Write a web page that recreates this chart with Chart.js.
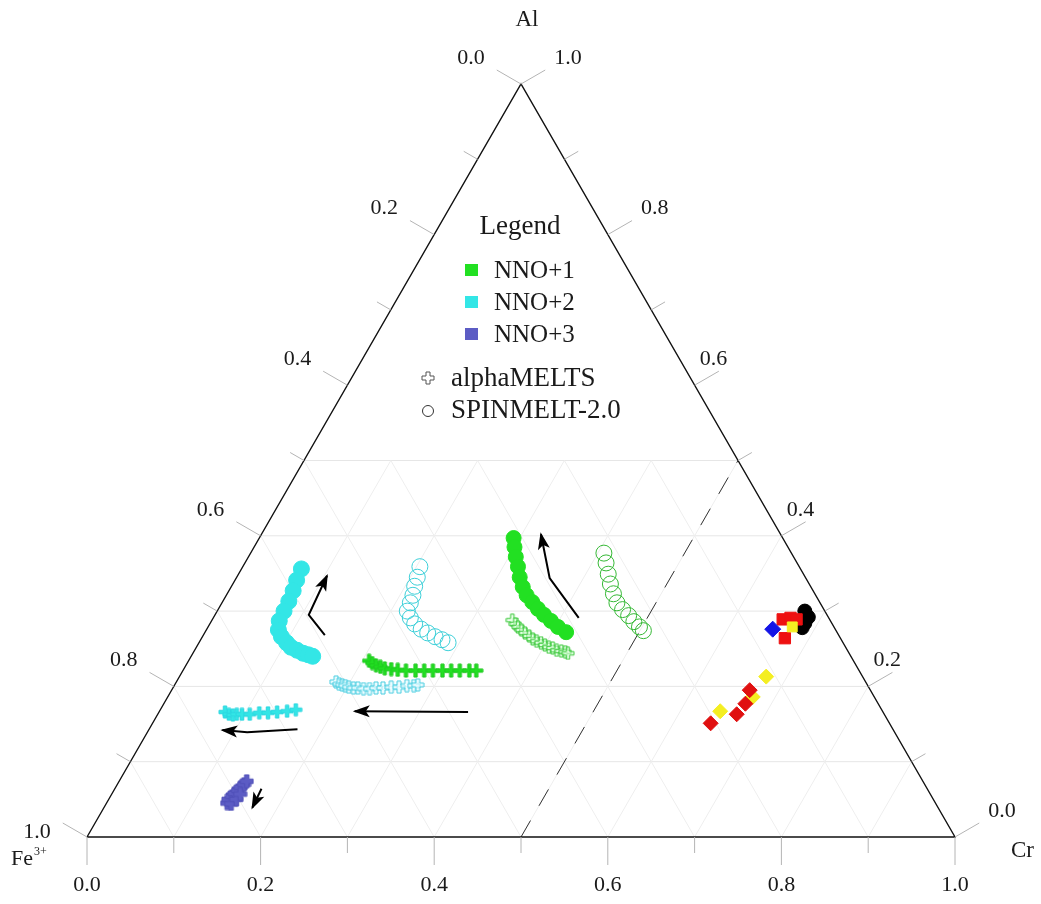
<!DOCTYPE html>
<html>
<head>
<meta charset="utf-8">
<script src="https://cdn.jsdelivr.net/npm/chart.js@4.4.1/dist/chart.umd.min.js"></script>
<style>
  html, body { margin: 0; padding: 0; background: #ffffff; }
  canvas { display: block; }
</style>
</head>
<body>
<canvas id="chart" width="1041" height="904"></canvas>
<script>
// Ternary compositions are stored as Cr and Al fractions; Fe3+ = 1 - Cr - Al.

// NNO+1
const nno1SpinFilledCr = [0.293,0.300,0.308,0.317,0.326,0.336,0.346,0.357,0.368,0.379,0.391,0.403,0.416];
const nno1SpinFilledAl = [0.397,0.385,0.372,0.359,0.345,0.332,0.321,0.312,0.303,0.295,0.287,0.279,0.272];
const nno1SpinOpenCr = [0.407,0.416,0.426,0.435,0.445,0.455,0.466,0.477,0.487,0.497,0.504];
const nno1SpinOpenAl = [0.377,0.364,0.349,0.336,0.323,0.311,0.302,0.294,0.286,0.279,0.274];
const nno1MeltsOpenCr = [0.346,0.352,0.357,0.363,0.369,0.376,0.382,0.388,0.394,0.400,0.406,0.411,0.417,0.423,0.428,0.432];
const nno1MeltsOpenAl = [0.288,0.283,0.279,0.275,0.271,0.267,0.263,0.260,0.258,0.255,0.252,0.251,0.248,0.247,0.246,0.244];
const nno1MeltsCr = [0.208,0.213,0.219,0.225,0.231,0.239,0.247,0.257,0.268,0.278,0.288,0.299,0.309,0.319,0.330,0.338];
const nno1MeltsAl = [0.234,0.231,0.228,0.226,0.224,0.223,0.222,0.221,0.221,0.221,0.221,0.221,0.221,0.221,0.221,0.221];

// NNO+2
const nno2SpinFilledCr = [0.069,0.071,0.074,0.076,0.077,0.078,0.083,0.091,0.101,0.109,0.118,0.127,0.134,0.140];
const nno2SpinFilledAl = [0.356,0.341,0.327,0.313,0.300,0.287,0.275,0.266,0.258,0.252,0.248,0.244,0.242,0.240];
const nno2SpinOpenCr = [0.204,0.208,0.211,0.215,0.217,0.219,0.227,0.236,0.247,0.257,0.268,0.278,0.287];
const nno2SpinOpenAl = [0.359,0.345,0.333,0.321,0.311,0.300,0.291,0.283,0.276,0.271,0.266,0.262,0.258];
const nno2MeltsOpenCr = [0.184,0.189,0.193,0.197,0.202,0.208,0.213,0.220,0.227,0.234,0.242,0.251,0.260,0.268,0.276,0.280];
const nno2MeltsOpenAl = [0.206,0.203,0.202,0.201,0.199,0.198,0.198,0.197,0.197,0.198,0.198,0.199,0.199,0.201,0.201,0.202];
const nno2MeltsCr = [0.076,0.082,0.087,0.091,0.097,0.106,0.116,0.126,0.136,0.147,0.156];
const nno2MeltsAl = [0.166,0.163,0.162,0.163,0.163,0.163,0.165,0.165,0.166,0.167,0.169];

// NNO+3
const nno3MeltsCr = [0.139,0.138,0.140,0.141,0.143,0.144,0.146,0.147,0.144,0.147,0.148];
const nno3MeltsAl = [0.045,0.050,0.054,0.058,0.062,0.066,0.070,0.074,0.044,0.050,0.057];

// Natural spinel compositions
const blackCr = [0.677,0.685,0.685,0.685];
const blackAl = [0.300,0.292,0.284,0.278];
const redSquareCr = [0.657,0.665,0.673,0.672];
const redSquareAl = [0.289,0.291,0.289,0.264];
const blueCr = [0.652];
const blueAl = [0.276];
const yellowSquareCr = [0.673];
const yellowSquareAl = [0.279];
const yellowDiamondCr = [0.676,0.674,0.646];
const yellowDiamondAl = [0.213,0.186,0.167];
const redDiamondCr = [0.666,0.670,0.667,0.643];
const redDiamondAl = [0.195,0.177,0.163,0.151];

// Trend arrows (Cr, Al along each path; the last point is the head)
const arrow1Cr = [0.421,0.361,0.322];
const arrow1Al = [0.291,0.344,0.402];
const arrow2Cr = [0.140,0.108,0.103];
const arrow2Al = [0.268,0.295,0.347];
const arrow3Cr = [0.356,0.225];
const arrow3Al = [0.166,0.167];
const arrow4Cr = [0.171,0.115,0.085];
const arrow4Al = [0.143,0.139,0.142];
const arrow5Cr = [0.169,0.171];
const arrow5Al = [0.064,0.039];

// Axis ticks
const tickSteps = [0,0.1,0.2,0.3,0.4,0.5,0.6,0.7,0.8,0.9,1.0];
const tickLabels = ['0.0','0.2','0.4','0.6','0.8','1.0'];
const gridAlLevels = [0.1,0.2,0.3,0.4,0.5];
const gridDiagLevels = [0.1,0.2,0.3,0.4,0.5,0.6,0.7,0.8,0.9];
const dashedCr = 0.5;

const legendSeries = ['NNO+1','NNO+2','NNO+3'];
const legendModels = ['alphaMELTS','SPINMELT-2.0'];

const H = Math.sqrt(3) / 2;
const FONT = '"Liberation Serif", "Times New Roman", serif';
const GREEN = '#22e022';
const CYAN = '#33e6e6';
const SLATE = '#5c5cc4';

function tern(cr, al) { return { x: cr + al / 2, y: al * H }; }
function pts(crs, als) { return crs.map((c, i) => tern(c, als[i])); }

function plusImage(size, thick, stroke, fill) {
  const c = document.createElement('canvas');
  c.width = size + 2; c.height = size + 2;
  const g = c.getContext('2d');
  const m = (size + 2) / 2, h = size / 2, t = thick / 2;
  g.beginPath();
  g.moveTo(m - t, m - h); g.lineTo(m + t, m - h); g.lineTo(m + t, m - t);
  g.lineTo(m + h, m - t); g.lineTo(m + h, m + t); g.lineTo(m + t, m + t);
  g.lineTo(m + t, m + h); g.lineTo(m - t, m + h); g.lineTo(m - t, m + t);
  g.lineTo(m - h, m + t); g.lineTo(m - h, m - t); g.lineTo(m - t, m - t);
  g.closePath();
  if (fill) { g.fillStyle = fill; g.fill(); }
  g.strokeStyle = stroke; g.lineWidth = 1; g.stroke();
  return c;
}

const datasets = [];
function lineSet(data, color, width, dash) {
  datasets.push({ data, showLine: true, borderColor: color, borderWidth: width,
    borderDash: dash || [], pointRadius: 0, fill: false, tension: 0 });
}
function markerSet(data, style, radius, fill, stroke, bw) {
  datasets.push({ data, showLine: false, pointStyle: style, pointRadius: radius,
    backgroundColor: fill, borderColor: stroke, borderWidth: bw });
}

// Light grid over the lower half of the triangle
gridAlLevels.forEach(a => lineSet([tern(0, a), tern(1 - a, a)], '#e6e6e6', 1));
gridDiagLevels.forEach(v => {
  const top = Math.min(0.5, 1 - v);
  lineSet([tern(v, 0), tern(v, top)], '#eeeeee', 1);
  lineSet([tern(1 - v, 0), tern(1 - v - top, top)], '#eeeeee', 1);
});
// Constant-Cr reference line
lineSet([tern(dashedCr, 0), tern(dashedCr, 0.5)], '#333333', 1, [19, 17]);
// Triangle frame
lineSet([tern(0, 0), tern(1, 0), tern(0, 1), tern(0, 0)], '#111111', 1.4);

// Model results
markerSet(pts(nno1MeltsOpenCr, nno1MeltsOpenAl), plusImage(12, 3.5, '#3cc83c', 'rgba(215,255,215,0.55)'), 6);
markerSet(pts(nno1SpinOpenCr, nno1SpinOpenAl), 'circle', 8, 'rgba(0,0,0,0)', '#35b835', 1);
markerSet(pts(nno1SpinFilledCr, nno1SpinFilledAl), 'circle', 7.5, GREEN, GREEN, 1);
markerSet(pts(nno1MeltsCr, nno1MeltsAl), plusImage(13, 3.2, '#1fc81f', GREEN), 7);
markerSet(pts(nno2SpinOpenCr, nno2SpinOpenAl), 'circle', 8, 'rgba(0,0,0,0)', '#3ccfd8', 1);
markerSet(pts(nno2SpinFilledCr, nno2SpinFilledAl), 'circle', 8, CYAN, CYAN, 1);
markerSet(pts(nno2MeltsOpenCr, nno2MeltsOpenAl), plusImage(12, 4, '#48cde0', 'rgba(225,250,255,0.6)'), 7);
markerSet(pts(nno2MeltsCr, nno2MeltsAl), plusImage(12, 3.5, '#2bd6e0', CYAN), 7);
markerSet(pts(nno3MeltsCr, nno3MeltsAl), plusImage(13, 4.5, '#5050b8', SLATE), 7);

// Natural spinels
markerSet(pts(blackCr, blackAl), 'circle', 7, '#000000', '#000000', 1);
markerSet(pts(redSquareCr, redSquareAl), 'rect', 8, '#ee1111', '#ee1111', 1);
markerSet(pts(blueCr, blueAl), 'rectRot', 8, '#1414e6', '#1414e6', 1);
markerSet(pts(yellowSquareCr, yellowSquareAl), 'rect', 7, '#f4ee22', '#f4ee22', 1);
markerSet(pts(yellowDiamondCr, yellowDiamondAl), 'rectRot', 7.5, '#f4ee22', '#f4ee22', 1);
markerSet(pts(redDiamondCr, redDiamondAl), 'rectRot', 7.5, '#e01010', '#e01010', 1);

// Arrows
const arrowStart = datasets.length;
[[arrow1Cr, arrow1Al], [arrow2Cr, arrow2Al], [arrow3Cr, arrow3Al], [arrow4Cr, arrow4Al], [arrow5Cr, arrow5Al]]
  .forEach(([c, a]) => lineSet(pts(c, a), '#000000', 2));
const arrowEnd = datasets.length;

// Later datasets are painted on top
datasets.forEach((d, i) => { d.order = datasets.length - i; d.clip = false; });

const arrowHeads = {
  id: 'arrowHeads',
  afterDatasetsDraw(chart) {
    const ctx = chart.ctx;
    for (let i = arrowStart; i < arrowEnd; i++) {
      const els = chart.getDatasetMeta(i).data;
      const p = els[els.length - 1], q = els[els.length - 2];
      const ang = Math.atan2(p.y - q.y, p.x - q.x);
      const L = 15, W = 6;
      ctx.save();
      ctx.translate(p.x, p.y);
      ctx.rotate(ang);
      ctx.beginPath();
      ctx.moveTo(2, 0);
      ctx.lineTo(-L, -W);
      ctx.lineTo(-L + 4, 0);
      ctx.lineTo(-L, W);
      ctx.closePath();
      ctx.fillStyle = '#000';
      ctx.fill();
      ctx.restore();
    }
  }
};

const frame = {
  id: 'ternaryFrame',
  afterDraw(chart) {
    const ctx = chart.ctx;
    const xs = chart.scales.x, ys = chart.scales.y;
    const px = (cr, al) => { const t = tern(cr, al); return [xs.getPixelForValue(t.x), ys.getPixelForValue(t.y)]; };
    const c30 = Math.cos(Math.PI / 6), s30 = 0.5;
    ctx.save();
    ctx.strokeStyle = '#b4b4b4';
    ctx.lineWidth = 1;
    tickSteps.forEach((v, i) => {
      const L = i % 2 === 0 ? 28 : 16;
      let p = px(v, 0);
      ctx.beginPath(); ctx.moveTo(p[0], p[1]); ctx.lineTo(p[0], p[1] + L); ctx.stroke();
      p = px(0, 1 - v);
      ctx.beginPath(); ctx.moveTo(p[0], p[1]); ctx.lineTo(p[0] - L * c30, p[1] - L * s30); ctx.stroke();
      p = px(1 - v, v);
      ctx.beginPath(); ctx.moveTo(p[0], p[1]); ctx.lineTo(p[0] + L * c30, p[1] - L * s30); ctx.stroke();
    });
    ctx.fillStyle = '#1a1a1a';
    ctx.font = '22px ' + FONT;
    ctx.textAlign = 'center';
    ctx.textBaseline = 'middle';
    tickLabels.forEach((lab, k) => {
      const v = k * 0.2;
      const isEnd = k === 0 || k === tickLabels.length - 1;
      let p = px(v, 0);
      ctx.fillText(lab, p[0], p[1] + 48);
      // Fe3+ side: the 1.0 label sits lower, beside the corner
      p = px(0, 1 - v);
      ctx.fillText(lab, p[0] - 50, p[1] - (k === tickLabels.length - 1 ? 5 : 26));
      // Al side: inner labels sit closer to the edge
      p = px(1 - v, v);
      const inner = !isEnd && k !== tickLabels.length - 2;
      ctx.fillText(lab, p[0] + (inner ? 19 : 47), p[1] - 26);
    });
    // Vertex titles
    ctx.font = '23px ' + FONT;
    let p = px(0, 1);
    ctx.fillText('Al', p[0] + 6, 20);
    p = px(1, 0);
    ctx.textAlign = 'left';
    ctx.fillText('Cr', p[0] + 56, p[1] + 14);
    p = px(0, 0);
    ctx.font = '22px ' + FONT;
    ctx.fillText('Fe', p[0] - 76, p[1] + 22);
    const feW = ctx.measureText('Fe').width;
    ctx.font = '12px ' + FONT;
    ctx.fillText('3+', p[0] - 76 + feW + 1, p[1] + 15);

    // Legend
    ctx.textAlign = 'center';
    ctx.font = '27px ' + FONT;
    ctx.fillText('Legend', 520, 227);
    const cols = [GREEN, CYAN, SLATE];
    ctx.textAlign = 'left';
    ctx.font = '25px ' + FONT;
    legendSeries.forEach((name, i) => {
      const y = 270 + i * 32;
      ctx.fillStyle = cols[i];
      ctx.fillRect(465, y - 6, 13, 12);
      ctx.fillStyle = '#1a1a1a';
      ctx.fillText(name, 494, y + 1);
    });
    ctx.font = '27px ' + FONT;
    ctx.drawImage(plusImage(12, 4, '#555555', null), 421, 371);
    ctx.fillText(legendModels[0], 451, 379);
    ctx.beginPath();
    ctx.arc(428, 411, 5.5, 0, Math.PI * 2);
    ctx.strokeStyle = '#333333';
    ctx.stroke();
    ctx.fillText(legendModels[1], 451, 411);
    ctx.restore();
  }
};

new Chart(document.getElementById('chart'), {
  type: 'scatter',
  data: { datasets },
  options: {
    responsive: false,
    devicePixelRatio: 1,
    animation: false,
    layout: { padding: { left: 87, right: 86, top: 84, bottom: 67 } },
    scales: {
      x: { type: 'linear', min: 0, max: 1, display: false },
      y: { type: 'linear', min: 0, max: H, display: false }
    },
    plugins: { legend: { display: false }, tooltip: { enabled: false } },
    elements: { line: { tension: 0 } }
  },
  plugins: [arrowHeads, frame]
});
</script>
</body>
</html>
